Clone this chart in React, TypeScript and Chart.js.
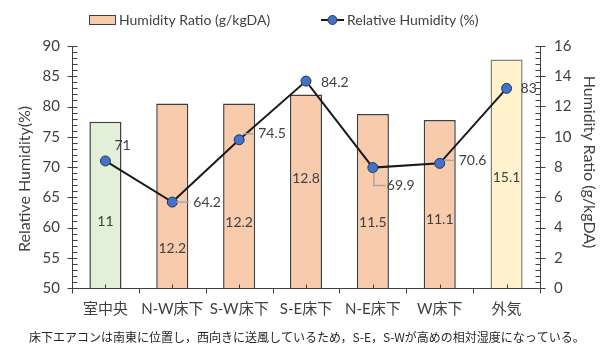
import { useEffect, useRef } from 'react';
import { Chart, registerables } from 'chart.js';

Chart.register(...registerables);

const categories = ['室中央', 'N-W床下', 'S-W床下', 'S-E床下', 'N-E床下', 'W床下', '外気'];
const humidityRatio = [11, 12.2, 12.2, 12.8, 11.5, 11.1, 15.1];
const relativeHumidity = [71, 64.2, 74.5, 84.2, 69.9, 70.6, 83];
const barFills = ['#E2F0D9', '#F8CBAD', '#F8CBAD', '#F8CBAD', '#F8CBAD', '#F8CBAD', '#FFF2CC'];
const barBorders = ['#404040', '#404040', '#404040', '#404040', '#404040', '#404040', '#7F7F7F'];
const leftAxis = { min: 50, max: 90, step: 5, minor: 1 };
const rightAxis = { min: 0, max: 16, step: 2, minor: 0.4 };
const legendLabels = ['Humidity Ratio (g/kgDA)', 'Relative Humidity (%)'];
const leftTitle = 'Relative Humidity(%)';
const rightTitle = 'Humidity Ratio (g/kgDA)';
const footnote = '床下エアコンは南東に位置し，西向きに送風しているため，S-E，S-Wが高めの相対湿度になっている。';

// label placement styles (pixel offsets)
const barLabelDy = [17, 53, 27, -13, 21, 15, 4];
const lineLabelStyle = [
  { dx: 9, dy: -15, leader: '' },
  { dx: 21, dy: 0, leader: 'h' },
  { dx: 19, dy: -6, leader: 'h' },
  { dx: 15, dy: 1, leader: '' },
  { dx: 14, dy: 18, leader: 'L' },
  { dx: 19, dy: -3, leader: 'h' },
  { dx: 14, dy: 0, leader: '' },
];

const FONT = "Lato, 'Noto Sans CJK JP', sans-serif";
const TEXT = '#404040';
const AXIS = '#404040';

const decor = {
  id: 'decor',
  afterDatasetsDraw(chart: any) {
    const ctx: CanvasRenderingContext2D = chart.ctx;
    const { left, right, bottom } = chart.chartArea;
    const yL = chart.scales.y;
    const yR = chart.scales.y1;
    const xs = chart.scales.x;
    ctx.save();
    ctx.strokeStyle = AXIS;
    ctx.lineWidth = 1;
    ctx.beginPath();
    const lx = Math.round(left) + 0.5;
    for (let v = leftAxis.min; v <= leftAxis.max + 1e-6; v += leftAxis.minor) {
      const py = Math.round(yL.getPixelForValue(v)) + 0.5;
      const major = Math.abs(v / leftAxis.step - Math.round(v / leftAxis.step)) < 1e-6;
      ctx.moveTo(major ? lx - 5 : lx, py);
      ctx.lineTo(lx + 5, py);
    }
    const rx = Math.round(right) + 0.5;
    for (let v = rightAxis.min; v <= rightAxis.max + 1e-6; v += rightAxis.minor) {
      const py = Math.round(yR.getPixelForValue(v)) + 0.5;
      const major = Math.abs(v / rightAxis.step - Math.round(v / rightAxis.step)) < 1e-6;
      ctx.moveTo(rx - 5, py);
      ctx.lineTo(major ? rx + 5 : rx, py);
    }
    const by = Math.round(bottom) + 0.5;
    const n = categories.length;
    const w = (right - left) / n;
    for (let i = 0; i <= n; i++) {
      const px = Math.round(left + i * w) + 0.5;
      ctx.moveTo(px, by - (i === 0 || i === n ? 5 : 0));
      ctx.lineTo(px, by + 5);
    }
    for (let i = 0; i < n; i++) {
      const px = Math.round(xs.getPixelForValue(i)) + 0.5;
      ctx.moveTo(px, by - 4);
      ctx.lineTo(px, by);
    }
    ctx.stroke();

    // bar labels
    ctx.font = `14px ${FONT}`;
    ctx.fillStyle = TEXT;
    ctx.textAlign = 'center';
    ctx.textBaseline = 'middle';
    const barMeta = chart.getDatasetMeta(1);
    barMeta.data.forEach((el: any, i: number) => {
      const mid = (el.y + el.base) / 2;
      ctx.fillText(String(humidityRatio[i]), el.x, mid + barLabelDy[i]);
    });

    // line labels
    const lineMeta = chart.getDatasetMeta(0);
    ctx.strokeStyle = '#A6A6A6';
    ctx.lineWidth = 1.5;
    lineMeta.data.forEach((el: any, i: number) => {
      const s = lineLabelStyle[i];
      const tx = el.x + s.dx;
      const ty = el.y + s.dy;
      if (s.leader === 'h') {
        ctx.beginPath();
        ctx.moveTo(el.x + 4, ty);
        ctx.lineTo(tx - 5, ty);
        ctx.stroke();
      } else if (s.leader === 'L') {
        ctx.beginPath();
        ctx.moveTo(el.x + 1, el.y + 5);
        ctx.lineTo(el.x + 1, ty);
        ctx.lineTo(tx - 1, ty);
        ctx.stroke();
      }
      ctx.textAlign = 'left';
      ctx.fillStyle = TEXT;
      ctx.fillText(String(relativeHumidity[i]), tx, ty);
    });
    ctx.restore();
  },
  afterDraw(chart: any) {
    const ctx: CanvasRenderingContext2D = chart.ctx;
    ctx.save();
    ctx.fillStyle = TEXT;
    ctx.textBaseline = 'middle';
    // legend
    ctx.font = `14px ${FONT}`;
    ctx.fillStyle = barFills[1];
    ctx.fillRect(89, 15, 26, 9);
    ctx.strokeStyle = '#404040';
    ctx.lineWidth = 1;
    ctx.strokeRect(89.5, 15.5, 26, 9);
    ctx.fillStyle = TEXT;
    ctx.textAlign = 'left';
    ctx.fillText(legendLabels[0], 119, 20);
    ctx.strokeStyle = '#1a1a1a';
    ctx.lineWidth = 2;
    ctx.beginPath();
    ctx.moveTo(321, 20);
    ctx.lineTo(344, 20);
    ctx.stroke();
    ctx.beginPath();
    ctx.arc(332.5, 20, 4.5, 0, Math.PI * 2);
    ctx.fillStyle = '#4472C4';
    ctx.fill();
    ctx.lineWidth = 1;
    ctx.strokeStyle = '#1F3864';
    ctx.stroke();
    ctx.fillStyle = TEXT;
    ctx.fillText(legendLabels[1], 347, 20);

    // axis titles
    ctx.font = `16px ${FONT}`;
    ctx.textAlign = 'center';
    ctx.save();
    ctx.translate(25, 179);
    ctx.rotate(-Math.PI / 2);
    ctx.fillText(leftTitle, 0, 0);
    ctx.restore();
    ctx.save();
    ctx.translate(589, 162);
    ctx.rotate(Math.PI / 2);
    ctx.fillText(rightTitle, 0, 0);
    ctx.restore();

    // footnote
    ctx.font = `12px 'Noto Sans CJK JP', sans-serif`;
    ctx.textAlign = 'left';
    ctx.fillStyle = '#262626';
    ctx.fillText(footnote, 29, 337);
    ctx.restore();
  },
};

export default function App() {
  const ref = useRef<HTMLCanvasElement>(null);
  useEffect(() => {
    document.body.style.margin = '0';
    const chart = new Chart(ref.current as HTMLCanvasElement, {
      type: 'bar',
      data: {
        labels: categories,
        datasets: [
          {
            type: 'line',
            label: legendLabels[1],
            data: relativeHumidity,
            yAxisID: 'y',
            borderColor: '#1a1a1a',
            borderWidth: 2,
            pointRadius: 5,
            pointBackgroundColor: '#4472C4',
            pointBorderColor: '#1F3864',
            pointBorderWidth: 1,
            tension: 0,
            order: 0,
          } as any,
          {
            type: 'bar',
            label: legendLabels[0],
            data: humidityRatio,
            yAxisID: 'y1',
            backgroundColor: barFills,
            borderColor: barBorders,
            borderWidth: 1.5,
            barPercentage: 0.48,
            categoryPercentage: 1,
            order: 1,
          },
        ],
      },
      options: {
        responsive: false,
        animation: false,
        layout: { padding: { top: 46, left: 0, right: 0, bottom: 0 } },
        plugins: { legend: { display: false }, tooltip: { enabled: false } },
        scales: {
          x: {
            grid: { display: false, drawTicks: false },
            border: { display: true, color: AXIS, width: 1 },
            ticks: { font: { family: FONT, size: 15 }, color: TEXT, padding: 12, maxRotation: 0, autoSkip: false },
            afterFit: (s: any) => { s.height = 59; },
          },
          y: {
            position: 'left',
            min: leftAxis.min,
            max: leftAxis.max,
            grid: { display: false, drawTicks: false },
            border: { display: true, color: AXIS, width: 1 },
            ticks: { stepSize: leftAxis.step, font: { family: FONT, size: 15 }, color: TEXT, padding: 12 },
            afterFit: (s: any) => { s.width = 72; },
          },
          y1: {
            position: 'right',
            min: rightAxis.min,
            max: rightAxis.max,
            grid: { display: false, drawTicks: false },
            border: { display: true, color: AXIS, width: 1 },
            ticks: { stepSize: rightAxis.step, font: { family: FONT, size: 15 }, color: TEXT, padding: 14 },
            afterFit: (s: any) => { s.width = 76; },
          },
        },
      } as any,
      plugins: [decor],
    });
    return () => chart.destroy();
  }, []);
  return <canvas ref={ref} width={616} height={347} style={{ display: 'block' }} />;
}
